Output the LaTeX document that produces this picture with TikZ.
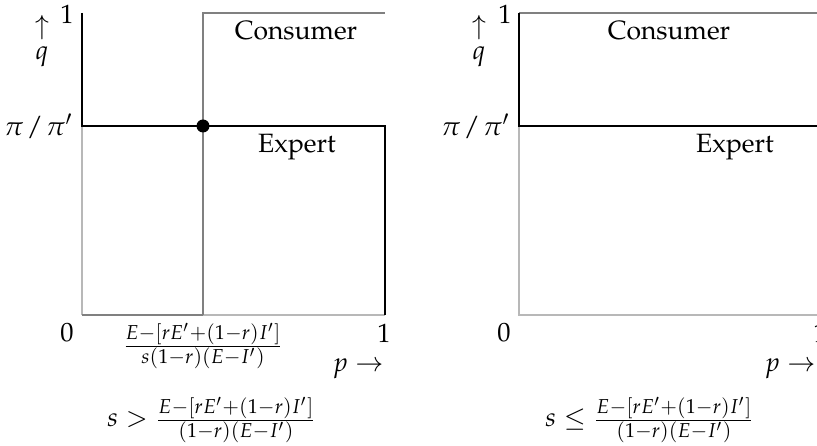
\documentclass[tikz,border=0pt]{standalone}
\usepackage[T1]{fontenc}
\usepackage{mathpazo}
\begin{document}
\begin{tikzpicture}[x=0.37pt,y=-0.37pt,
  blk/.style={line width=0.85pt,black},
  mid/.style={line width=0.85pt,black!50},
  lgt/.style={line width=0.85pt,black!28},
  lbl/.style={inner sep=0pt,outer sep=0pt,font=\fontsize{9.8}{11}\selectfont}]
\useasboundingbox (0,0) rectangle (817,446);
\clip (0,0) rectangle (817,446);
% ---------- left plot ----------
\coordinate (LA) at (82,13);
\coordinate (LB) at (82,126);
\coordinate (LC) at (82,315);
\coordinate (LM) at (203,13);
\coordinate (LD) at (203,126);
\coordinate (LE) at (203,315);
\coordinate (LF) at (385,13);
\coordinate (LG) at (385,126);
\coordinate (LH) at (385,315);
\draw[lgt] (LB) -- (LC);
\draw[lgt] (LE) -- (LH);
\draw[mid] (LC) -- (LE);
\draw[mid] (LE) -- (LM) -- (LF);
\draw[blk] (LA) -- (LB) -- (LG) -- (LH);
\fill (LD) circle (6.5);
\node[lbl] (l1) at (67,14) {$1$};
\node[lbl,align=center] (lq) at (42,41) {$\uparrow$\\[-2pt]$q$};
\node[lbl,anchor=east] (lpi) at (73,126) {$\pi\mkern2mu/\mkern2mu\pi'$};
\node[lbl] (l0) at (67,333) {$0$};
\node[lbl] (l1b) at (384,333) {$1$};
\node[lbl] (lfr) at (203,346) {$\frac{E-[rE'+(1-r)I']}{s(1-r)(E-I')}$};
\node[lbl] (lp) at (358,369) {$p\rightarrow$};
\node[lbl] (lcap) at (212,420) {$s>\frac{E-[rE'+(1-r)I']}{(1-r)(E-I')}$};
\node[lbl] (lcons) at (296,31) {Consumer};
\node[lbl] (lexp) at (297,147) {Expert};
% ---------- right plot ----------
\coordinate (RA) at (519,13);
\coordinate (RB) at (519,126);
\coordinate (RC) at (519,315);
\coordinate (RF) at (822,13);
\coordinate (RG) at (822,126);
\coordinate (RH) at (822,315);
\draw[lgt] (RB) -- (RC) -- (RH);
\draw[mid] (RA) -- (RF);
\draw[blk] (RA) -- (RB) -- (RG) -- (RH);
\node[lbl] (r1) at (505,14) {$1$};
\node[lbl,align=center] (rq) at (479,41) {$\uparrow$\\[-2pt]$q$};
\node[lbl,anchor=east] (rpi) at (510,126) {$\pi\mkern2mu/\mkern2mu\pi'$};
\node[lbl] (r0) at (504,333) {$0$};
\node[lbl] (r1b) at (820,333) {$1$};
\node[lbl] (rp) at (790,369) {$p\rightarrow$};
\node[lbl] (rcap) at (650,420) {$s\leq\frac{E-[rE'+(1-r)I']}{(1-r)(E-I')}$};
\node[lbl] (rcons) at (669,31) {Consumer};
\node[lbl] (rexp) at (735,147) {Expert};
\end{tikzpicture}
\end{document}
